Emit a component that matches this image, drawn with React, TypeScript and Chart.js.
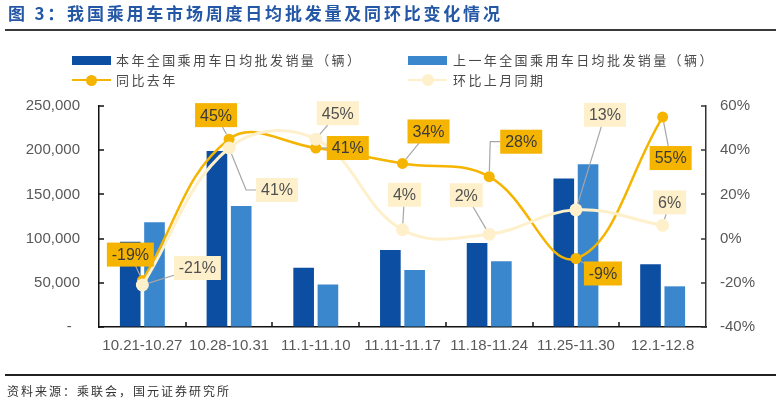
import React, { useEffect, useRef } from 'react';
import { Chart, registerables } from 'chart.js';

Chart.register(...registerables);

// ---- data ----
const categories = ['10.21-10.27', '10.28-10.31', '11.1-11.10', '11.11-11.17', '11.18-11.24', '11.25-11.30', '12.1-12.8'];
const thisYearSales = [96500, 199000, 67000, 87000, 95000, 168000, 71000];
const lastYearSales = [118500, 137000, 48000, 64500, 74500, 184000, 46000];
const yoyPct = [-19, 45, 41, 34, 28, -9, 55];
const momPct = [-21, 41, 45, 4, 2, 13, 6];

const seriesNames = ['本年全国乘用车日均批发销量（辆）', '上一年全国乘用车日均批发销量（辆）', '同比去年', '环比上月同期'];
const titleText = '图 3：我国乘用车市场周度日均批发量及同环比变化情况';
const sourceText = '资料来源：乘联会，国元证券研究所';

// ---- styles (label callout offsets in px: dx, dy, elbow) ----
const yoyLabelOffsets = [[-12, -26, 0], [-13, -24, 0], [32, 0, 0], [26, -32, 0], [32, -35, 1], [27, 15, 0], [8, 41, 0]];
const momLabelOffsets = [[55, -17, 0], [48, 42, 1], [22, -26, 0], [2, -35, 0], [-23, -39, 0], [29, -95, 0], [7, -23, 0]];

const DARK = '#0B4EA2';
const LIGHT = '#3A87CD';
const GOLD = '#F5B400';
const PALE = '#FFF0CC';
const LATIN = '"Liberation Sans", Arial, Helvetica, sans-serif';
const CJK = '"Noto Sans CJK SC", "Noto Sans", sans-serif';

const calloutPlugin = {
  id: 'callouts',
  afterDatasetsDraw(chart: any) {
    const ctx = chart.ctx;
    const specs = [
      { ds: 2, offsets: yoyLabelOffsets, fill: GOLD, color: '#3A3A3A', r: 5.5 },
      { ds: 3, offsets: momLabelOffsets, fill: PALE, color: '#505050', r: 6.5 },
    ];
    ctx.save();
    ctx.font = '16px ' + LATIN;
    ctx.textAlign = 'center';
    ctx.textBaseline = 'middle';
    specs.forEach((spec) => {
      const meta = chart.getDatasetMeta(spec.ds);
      const values = chart.data.datasets[spec.ds].data;
      meta.data.forEach((pt: any, i: number) => {
        const [dx, dy, elbow] = spec.offsets[i];
        const text = values[i] + '%';
        const w = Math.round(ctx.measureText(text).width + 10);
        const h = 24;
        const cx = pt.x + dx;
        const cy = pt.y + dy;
        const left = cx - w / 2;
        const top = cy - h / 2;
        const tx = elbow ? left - 10 : cx;
        const ty = cy;
        const len = Math.hypot(tx - pt.x, ty - pt.y) || 1;
        const sx = pt.x + ((tx - pt.x) / len) * spec.r;
        const sy = pt.y + ((ty - pt.y) / len) * spec.r;
        ctx.strokeStyle = '#A6A6A6';
        ctx.lineWidth = 1.2;
        ctx.beginPath();
        ctx.moveTo(sx, sy);
        if (elbow) {
          ctx.lineTo(left - 10, cy);
          ctx.lineTo(left, cy);
        } else {
          ctx.lineTo(cx, cy);
        }
        ctx.stroke();
        ctx.fillStyle = spec.fill;
        ctx.fillRect(left, top, w, h);
        ctx.fillStyle = spec.color;
        ctx.fillText(text, cx, cy + 1);
      });
    });
    ctx.restore();
  },
};

const innerTicksPlugin = {
  id: 'innerTicks',
  afterDraw(chart: any) {
    const { ctx, chartArea, scales } = chart;
    ctx.save();
    ctx.lineWidth = 1.5;
    ctx.strokeStyle = '#111';
    scales.y.ticks.forEach((t: any) => {
      const y = Math.round(scales.y.getPixelForValue(t.value));
      ctx.beginPath();
      ctx.moveTo(chartArea.left, y);
      ctx.lineTo(chartArea.left + 5, y);
      ctx.stroke();
    });
    ctx.strokeStyle = '#333';
    scales.y1.ticks.forEach((t: any) => {
      const y = Math.round(scales.y1.getPixelForValue(t.value));
      ctx.beginPath();
      ctx.moveTo(chartArea.right, y);
      ctx.lineTo(chartArea.right - 5, y);
      ctx.stroke();
    });
    ctx.strokeStyle = '#111';
    for (let i = 1; i < categories.length; i++) {
      const x = Math.round((scales.x.getPixelForValue(i - 1) + scales.x.getPixelForValue(i)) / 2);
      ctx.beginPath();
      ctx.moveTo(x, chartArea.bottom);
      ctx.lineTo(x, chartArea.bottom - 5);
      ctx.stroke();
    }
    ctx.restore();
  },
};

export default function App() {
  const canvasRef = useRef<HTMLCanvasElement | null>(null);

  useEffect(() => {
    document.body.style.margin = '0';
    const canvas = canvasRef.current;
    if (!canvas) return;
    const chart = new Chart(canvas, {
      type: 'bar',
      data: {
        labels: categories,
        datasets: [
          {
            type: 'bar',
            label: seriesNames[0],
            data: thisYearSales,
            backgroundColor: DARK,
            yAxisID: 'y',
            order: 2,
            categoryPercentage: 0.56,
            barPercentage: 0.85,
          },
          {
            type: 'bar',
            label: seriesNames[1],
            data: lastYearSales,
            backgroundColor: LIGHT,
            yAxisID: 'y',
            order: 3,
            categoryPercentage: 0.56,
            barPercentage: 0.85,
          },
          {
            type: 'line',
            label: seriesNames[2],
            data: yoyPct,
            borderColor: GOLD,
            backgroundColor: GOLD,
            borderWidth: 2.5,
            pointRadius: 5.5,
            pointBorderWidth: 0,
            pointBackgroundColor: GOLD,
            tension: 0.4,
            yAxisID: 'y1',
            order: 1,
            clip: false as any,
          },
          {
            type: 'line',
            label: seriesNames[3],
            data: momPct,
            borderColor: PALE,
            backgroundColor: PALE,
            borderWidth: 3,
            pointRadius: 6.5,
            pointBorderWidth: 0,
            pointBackgroundColor: PALE,
            tension: 0.4,
            yAxisID: 'y1',
            order: 0,
            clip: false as any,
          },
        ],
      },
      options: {
        responsive: false,
        animation: false,
        devicePixelRatio: 1,
        layout: { padding: { top: 106, left: 0, right: 0, bottom: 0 } },
        plugins: {
          legend: { display: false },
          title: { display: false },
          tooltip: { enabled: false },
        },
        scales: {
          x: {
            type: 'category',
            offset: true,
            grid: { display: true, drawOnChartArea: false, drawTicks: false },
            border: { display: true, color: '#111', width: 1.5 },
            ticks: {
              autoSkip: false,
              maxRotation: 0,
              minRotation: 0,
              padding: 10,
              color: '#595959',
              font: { family: LATIN, size: 15 },
            },
            afterFit: (s: any) => {
              s.height = 77;
            },
          },
          y: {
            position: 'left',
            min: 0,
            max: 250000,
            grid: { display: true, drawOnChartArea: false, drawTicks: false },
            border: { display: true, color: '#111', width: 1.5 },
            ticks: {
              stepSize: 50000,
              padding: 19,
              color: '#595959',
              font: { family: LATIN, size: 15 },
              callback: (v: any) => (v === 0 ? '-  ' : Number(v).toLocaleString('en-US')),
            },
            afterFit: (s: any) => {
              s.width = 99;
            },
          },
          y1: {
            position: 'right',
            min: -40,
            max: 60,
            grid: { display: true, drawOnChartArea: false, drawTicks: false },
            border: { display: true, color: '#333', width: 1.5 },
            ticks: {
              stepSize: 20,
              padding: 14,
              color: '#595959',
              font: { family: LATIN, size: 15 },
              callback: (v: any) => v + '%',
            },
            afterFit: (s: any) => {
              s.width = 70;
            },
          },
        },
      },
      plugins: [calloutPlugin, innerTicksPlugin],
    });
    return () => chart.destroy();
  }, []);

  const legendText: React.CSSProperties = {
    position: 'absolute',
    fontFamily: CJK,
    fontSize: 13,
    letterSpacing: 2.4,
    color: '#4a4a4a',
    lineHeight: '16px',
    whiteSpace: 'nowrap',
  };

  const lineMarker = (left: number, top: number, color: string, r: number) => (
    <div style={{ position: 'absolute', left, top: top - 1.25, width: 39, height: 2.5, background: color }}>
      <div
        style={{
          position: 'absolute',
          left: 19.5 - r,
          top: 1.25 - r,
          width: r * 2,
          height: r * 2,
          borderRadius: '50%',
          background: color,
        }}
      />
    </div>
  );

  return (
    <div style={{ position: 'absolute', left: 0, top: 0, width: 776, height: 404, background: '#fff', overflow: 'hidden' }}>
      <canvas ref={canvasRef} width={776} height={404} style={{ position: 'absolute', left: 0, top: 0, display: 'block' }} />
      <div
        style={{
          position: 'absolute',
          left: 8,
          top: 2,
          fontFamily: CJK,
          fontWeight: 700,
          fontSize: 17,
          letterSpacing: 2.8,
          color: '#2457A5',
          lineHeight: '22px',
          whiteSpace: 'nowrap',
        }}
      >
        {titleText}
      </div>
      <div style={{ position: 'absolute', left: 5, right: 0, top: 29, height: 2, background: '#3a3a3a' }} />

      <div style={{ position: 'absolute', left: 72, top: 56, width: 39, height: 9, background: DARK }} />
      <div style={{ ...legendText, left: 116, top: 52 }}>{seriesNames[0]}</div>
      <div style={{ position: 'absolute', left: 408, top: 56, width: 39, height: 9, background: LIGHT }} />
      <div style={{ ...legendText, left: 453, top: 52 }}>{seriesNames[1]}</div>
      {lineMarker(72, 80, GOLD, 5.5)}
      <div style={{ ...legendText, left: 116, top: 72 }}>{seriesNames[2]}</div>
      {lineMarker(408, 80, PALE, 6)}
      <div style={{ ...legendText, left: 453, top: 72 }}>{seriesNames[3]}</div>

      <div style={{ position: 'absolute', left: 5, right: 0, top: 374, height: 2, background: '#222' }} />
      <div
        style={{
          position: 'absolute',
          left: 7,
          top: 383,
          fontFamily: CJK,
          fontSize: 12,
          letterSpacing: 2,
          color: '#333',
          lineHeight: '16px',
          whiteSpace: 'nowrap',
        }}
      >
        {sourceText}
      </div>
    </div>
  );
}
